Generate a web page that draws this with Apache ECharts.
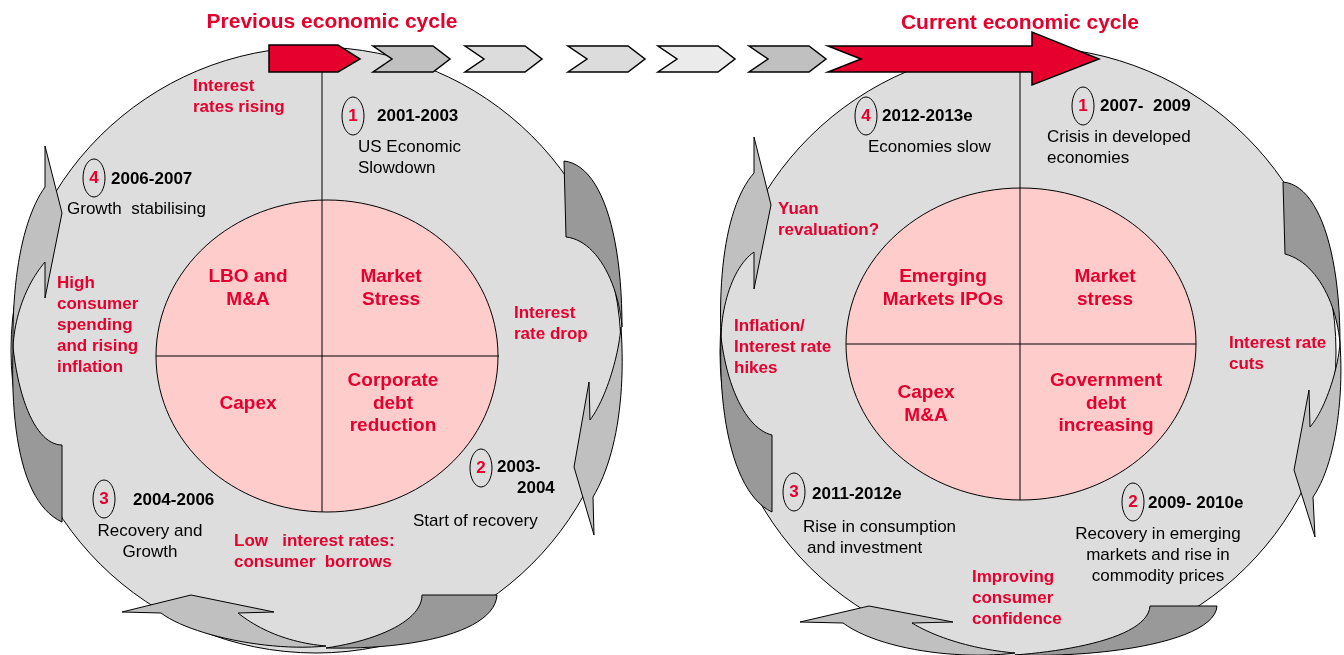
<!DOCTYPE html>
<html lang="en">
<head>
<meta charset="UTF-8">
<title>Economic cycles</title>
<script src="https://cdn.jsdelivr.net/npm/echarts@6/dist/echarts.min.js"></script>
<style>
  html, body { margin: 0; padding: 0; background: #fff; }
  #chart { width: 1344px; height: 655px; }
</style>
</head>
<body>
<div id="chart"></div>
<script>
  // texts of the two cycles (order: stage 1, 2, 3, 4)
  const cycleTitles = ['Previous economic cycle', 'Current economic cycle'];
  const stageNumbers = ['1', '2', '3', '4'];
  const prevQuadrants = ['LBO and\nM&A', 'Market\nStress', 'Capex', 'Corporate\ndebt\nreduction'];
  const currQuadrants = ['Emerging\nMarkets IPOs', 'Market\nstress', 'Capex\nM&A', 'Government\ndebt\nincreasing'];
  const prevYears = ['2001-2003', '2003-\n2004', '2004-2006', '2006-2007'];
  const currYears = ['2007-  2009', '2009- 2010e', '2011-2012e', '2012-2013e'];
  const prevPhases = ['US Economic\nSlowdown', 'Start of recovery', 'Recovery and\nGrowth', 'Growth  stabilising'];
  const currPhases = ['Crisis in developed\neconomies', 'Recovery in emerging\nmarkets and rise in\ncommodity prices', 'Rise in consumption\nand investment', 'Economies slow'];
  const prevDrivers = ['Interest\nrate drop', 'Low   interest rates:\nconsumer  borrows', 'High\nconsumer\nspending\nand rising\ninflation', 'Interest\nrates rising'];
  const currDrivers = ['Interest rate\ncuts', 'Improving\nconsumer\nconfidence', 'Inflation/\nInterest rate\nhikes', 'Yuan\nrevaluation?'];

  const RED = '#e5002d';
  const FAM = '"Liberation Sans", Arial, sans-serif';
  const LH = 21;

  // layout of each cycle picture
  const layouts = [
    {
      title: [332, 22],
      circle: { cx: 316, cy: 350, rx: 305, ry: 303 },
      pink: { cx: 327, cy: 356, rx: 171, ry: 156 },
      vx: 322, vline: [72, 512], hline: [156, 499],
      quad: [[248, 277], [391, 277], [248, 404], [393, 381]],
      badge: [[353, 116], [481, 468], [104, 499], [94, 178]],
      years: [[377, 116, 'left'], [[497, 517], 467, 'left'], [133, 500, 'left'], [111, 179, 'left']],
      phases: [[358, 147, 'left'], [413, 521, 'left'], [150, 531, 'center'], [67, 209, 'left']],
      drivers: [[514, 313], [234, 541], [57, 283], [193, 86]],
      light: [
        'M45,146 L62,213 L45,298 L45,262 C28,282 15,312 13,347 C12,270 25,215 45,187 Z',
        'M621,327 C626,400 615,460 593,497 L594,535 L574,467 L589,382 L590,420 C605,400 618,360 621,327 Z',
        'M122,612 L191,595 L274,612 L238,613 C262,632 292,643 326,646 C270,652 190,635 161,613 Z'
      ],
      dark: [
        'M13,347 C10,440 25,505 62,522 L62,445 C40,445 20,410 13,347 Z',
        'M564,161 C600,165 622,230 622,327 C618,280 595,240 566,237 Z',
        'M422,595 L497,595 C495,630 420,650 326,648 C380,640 422,620 422,595 Z'
      ]
    },
    {
      title: [1020, 23],
      circle: { cx: 1028, cy: 352, rx: 308, ry: 305 },
      pink: { cx: 1021, cy: 344, rx: 175, ry: 156 },
      vx: 1020, vline: [72, 500], hline: [846, 1196],
      quad: [[943, 277], [1105, 277], [926, 393], [1106, 381]],
      badge: [[1083, 106], [1133, 502], [794, 492], [866, 116]],
      years: [[1100, 106, 'left'], [1148, 503, 'left'], [812, 494, 'left'], [882, 116, 'left']],
      phases: [[1047, 137, 'left'], [1158, 534, 'center'], [[803, 807], 527, 'left'], [868, 147, 'left']],
      drivers: [[1229, 343], [972, 577], [734, 326], [778, 209]],
      light: [
        'M754,137 L771,205 L754,289 L754,252 C735,265 722,300 721,337 C718,260 730,200 754,173 Z',
        'M1340,343 C1344,400 1335,465 1313,497 L1315,537 L1294,470 L1309,390 L1310,427 C1325,410 1338,370 1340,343 Z',
        'M800,622 L869,606 L953,622 L912,623 C940,640 980,650 1015,653 C960,660 880,650 843,623 Z'
      ],
      dark: [
        'M721,337 C718,420 735,495 772,512 L772,435 C750,430 728,395 721,337 Z',
        'M1283,182 C1318,185 1340,250 1340,343 C1336,300 1315,262 1285,254 Z',
        'M1150,606 L1217,606 C1215,640 1110,658 1015,655 C1080,650 1148,635 1150,606 Z'
      ]
    }
  ];

  const chevronStarts = [373, 465, 568, 658, 749];
  const chevronFills = ['#c0c0c0', '#dcdcdc', '#dcdcdc', '#ebebeb', '#c0c0c0'];

  // turn a small M/L/C path into polygon points
  function pathPoints(d) {
    const tok = d.match(/[MLCZ]|-?\d+(\.\d+)?/g);
    const pts = [];
    let i = 0, cur = [0, 0];
    while (i < tok.length) {
      const c = tok[i++];
      if (c === 'M' || c === 'L') {
        cur = [+tok[i], +tok[i + 1]]; i += 2;
        pts.push(cur);
      } else if (c === 'C') {
        const a = cur, b = [+tok[i], +tok[i + 1]], e = [+tok[i + 2], +tok[i + 3]], f = [+tok[i + 4], +tok[i + 5]];
        i += 6;
        for (let k = 1; k <= 24; k++) {
          const t = k / 24, u = 1 - t;
          pts.push([
            u * u * u * a[0] + 3 * u * u * t * b[0] + 3 * u * t * t * e[0] + t * t * t * f[0],
            u * u * u * a[1] + 3 * u * u * t * b[1] + 3 * u * t * t * e[1] + t * t * t * f[1]
          ]);
        }
        cur = f;
      }
    }
    return pts;
  }

  function label(text, x, y, weight, size, fill, align) {
    return text.split('\n').map((line, i) => ({
      type: 'text',
      style: {
        text: line,
        x: Array.isArray(x) ? x[i] : x,
        y: y + i * (size > 17 ? 22.5 : LH),
        font: weight + ' ' + size + 'px ' + FAM,
        fill: fill,
        align: align,
        verticalAlign: 'middle'
      }
    }));
  }

  const els = [];

  layouts.forEach((L, c) => {
    els.push({ type: 'ellipse', shape: L.circle, style: { fill: '#dddddd', stroke: '#000', lineWidth: 1 } });
    L.light.forEach(d => els.push({ type: 'polygon', shape: { points: pathPoints(d) }, style: { fill: '#c0c0c0', stroke: '#000', lineWidth: 1 } }));
    L.dark.forEach(d => els.push({ type: 'polygon', shape: { points: pathPoints(d) }, style: { fill: '#999999', stroke: '#000', lineWidth: 1 } }));
    els.push({ type: 'ellipse', shape: L.pink, style: { fill: '#ffcccc', stroke: '#000', lineWidth: 1 } });
    els.push({ type: 'line', shape: { x1: L.vx, y1: L.vline[0], x2: L.vx, y2: L.vline[1] }, style: { stroke: '#000', lineWidth: 1 } });
    els.push({ type: 'line', shape: { x1: L.hline[0], y1: L.pink.cy, x2: L.hline[1], y2: L.pink.cy }, style: { stroke: '#000', lineWidth: 1 } });
  });

  // top band: red box, chevrons, big red arrow
  els.push({ type: 'polygon', shape: { points: [[269, 45], [338, 45], [360, 59], [338, 72], [269, 72]] }, style: { fill: RED, stroke: '#000', lineWidth: 1.5 } });
  chevronStarts.forEach((x0, i) => {
    els.push({
      type: 'polygon',
      shape: { points: [[x0, 46], [x0 + 60, 46], [x0 + 77, 59], [x0 + 60, 72], [x0, 72], [x0 + 19, 59]] },
      style: { fill: chevronFills[i], stroke: '#000', lineWidth: 1.5 }
    });
  });
  els.push({
    type: 'polygon',
    shape: { points: [[828, 46], [1032, 46], [1032, 32], [1099, 59], [1032, 85], [1032, 72], [828, 72], [861, 59]] },
    style: { fill: RED, stroke: '#000', lineWidth: 1.5 }
  });

  const texts = [
    [prevQuadrants, prevYears, prevPhases, prevDrivers],
    [currQuadrants, currYears, currPhases, currDrivers]
  ];

  layouts.forEach((L, c) => {
    const [quads, years, phases, drivers] = texts[c];
    els.push(...label(cycleTitles[c], L.title[0], L.title[1], 'bold', 21, RED, 'center'));
    quads.forEach((q, i) => els.push(...label(q, L.quad[i][0], L.quad[i][1], 'bold', 19, RED, 'center')));
    stageNumbers.forEach((n, i) => {
      const [bx, by] = L.badge[i];
      els.push({ type: 'ellipse', shape: { cx: bx, cy: by, rx: 11, ry: 19 }, style: { fill: 'none', stroke: '#000', lineWidth: 1 } });
      els.push(...label(n, bx, by, 'bold', 17, RED, 'center'));
    });
    years.forEach((t, i) => els.push(...label(t, L.years[i][0], L.years[i][1], 'bold', 17, '#000', L.years[i][2])));
    phases.forEach((t, i) => els.push(...label(t, L.phases[i][0], L.phases[i][1], 'normal', 17, '#000', L.phases[i][2])));
    drivers.forEach((t, i) => els.push(...label(t, L.drivers[i][0], L.drivers[i][1], 'bold', 17, RED, 'left')));
  });

  const chart = echarts.init(document.getElementById('chart'));
  chart.setOption({
    animation: false,
    graphic: { elements: els }
  });
</script>
</body>
</html>
